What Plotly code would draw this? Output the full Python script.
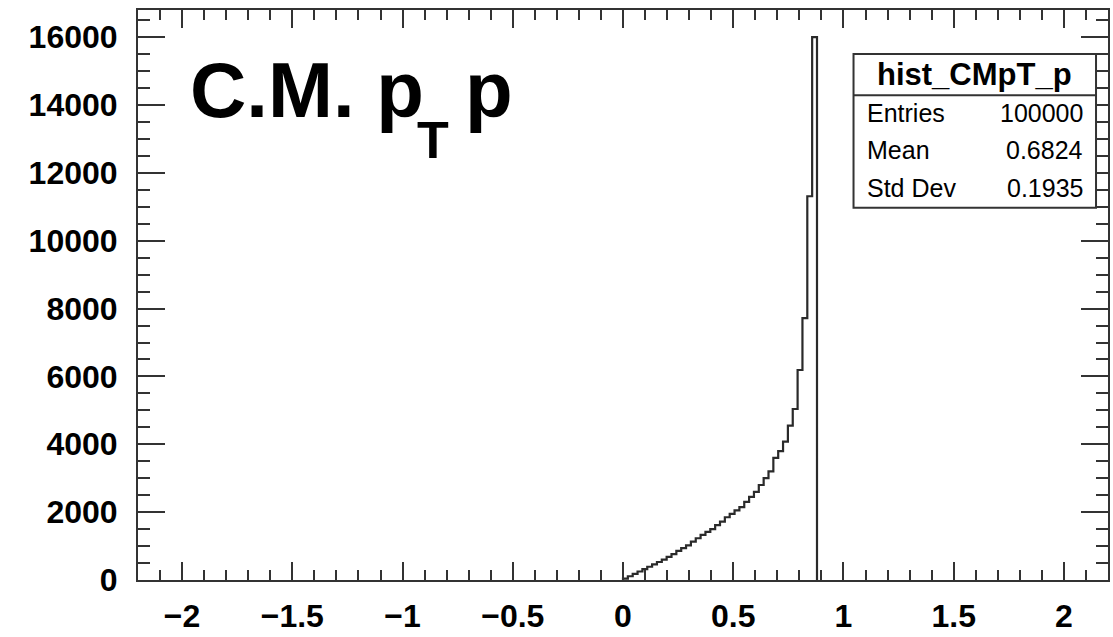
import plotly.graph_objects as go

# Histogram definition: 200 bins on [-2.2, 2.2]; only bins from 0 up to 0.88 are filled
x_low = -2.2
x_high = 2.2
n_bins = 200
first_filled_bin = 100  # bin starting at x = 0
counts = [40, 110, 180, 250, 320, 390, 460, 530, 600, 680,
          760, 860, 940, 1020, 1130, 1230, 1330, 1420, 1500, 1620,
          1720, 1850, 1950, 2050, 2150, 2300, 2450, 2600, 2800, 3000,
          3200, 3600, 3800, 4080, 4550, 5040, 6190, 7720, 11310, 16000]

stats_name = "hist_CMpT_p"
stats_labels = ["Entries", "Mean", "Std Dev"]
stats_values = ["100000", "0.6824", "0.1935"]

bin_w = (x_high - x_low) / n_bins
edges = [x_low + (first_filled_bin + i) * bin_w for i in range(len(counts) + 1)]

# step outline: rise at the first edge, follow the bins, drop back to zero
xs = [edges[0]] + edges
ys = [0] + counts + [0]

y_max = max(counts) * 1.05

fig = go.Figure()
fig.add_trace(go.Scatter(
    x=xs, y=ys, mode="lines", line=dict(color="#2a2a2a", width=2.2, shape="hv"),
    hoverinfo="skip", showlegend=False,
))

W, H = 1113, 637
ML, MR, MT, MB = 138, 3, 10, 45
PW, PH = W - ML - MR, H - MT - MB


def px(x):
    return (x - ML) / PW


def py(y):
    return 1 - (y - MT) / PH


FONT = "Liberation Sans, Arial, Helvetica, sans-serif"
axis_col = "#333333"

common = dict(
    showline=True, linecolor=axis_col, linewidth=2, mirror="allticks",
    ticks="inside", tickcolor=axis_col, tickwidth=2,
    showgrid=False, zeroline=False,
    tickfont=dict(family=FONT, size=32, color="black", weight="bold"),
)

fig.update_xaxes(
    range=[x_low, x_high], tick0=0, dtick=0.5, ticklen=18,
    minor=dict(ticks="inside", dtick=0.1, tick0=0, ticklen=10,
               tickcolor=axis_col, tickwidth=2, showgrid=False),
    ticklabelstandoff=7,
    **common,
)
fig.update_yaxes(
    range=[0, y_max], tick0=0, dtick=2000, ticklen=27, tickformat="d",
    minor=dict(ticks="inside", dtick=500, tick0=0, ticklen=12,
               tickcolor=axis_col, tickwidth=2, showgrid=False),
    ticklabelstandoff=12,
    **common,
)

# stats box
bx0, bx1, by0, by1, bsep = 855, 1098, 55, 212, 97
shapes = [
    dict(type="rect", xref="paper", yref="paper",
         x0=px(bx0), x1=px(bx1), y0=py(by1), y1=py(by0),
         line=dict(color=axis_col, width=2), fillcolor="white", layer="above"),
    dict(type="line", xref="paper", yref="paper",
         x0=px(bx0), x1=px(bx1), y0=py(bsep), y1=py(bsep),
         line=dict(color=axis_col, width=2), layer="above"),
]

title_font = dict(family=FONT, size=78, color="black", weight="bold")
sub_font = dict(family=FONT, size=52, color="black", weight="bold")


def note(text, x, y, xa, ya, font, pad=1):
    return dict(text=text, xref="paper", yref="paper", x=px(x), y=py(y),
                xanchor=xa, yanchor=ya, showarrow=False, font=font, borderpad=pad)


annotations = [
    # title "C.M. p_T p" with the subscript set lower, as ROOT draws it
    note("C.M. p", 189, 46, "left", "top", title_font, 0),
    note("T", 417, 112, "left", "top", sub_font, 0),
    note("p", 465, 46, "left", "top", title_font, 0),
    note(stats_name, (bx0 + bx1) / 2, (by0 + bsep) / 2, "center", "middle",
         dict(family=FONT, size=31, color="black", weight="bold")),
]
row_y = [115, 153, 192]
row_font = dict(family=FONT, size=25, color="black")
for lab, val, yy in zip(stats_labels, stats_values, row_y):
    annotations.append(note(lab, 866, yy, "left", "middle", row_font))
    annotations.append(note(val, 1087, yy, "right", "middle", row_font))

fig.update_layout(
    width=W, height=H,
    margin=dict(l=ML, r=MR, t=MT, b=MB),
    paper_bgcolor="white", plot_bgcolor="white",
    shapes=shapes, annotations=annotations,
)

fig.write_html("out.html")
